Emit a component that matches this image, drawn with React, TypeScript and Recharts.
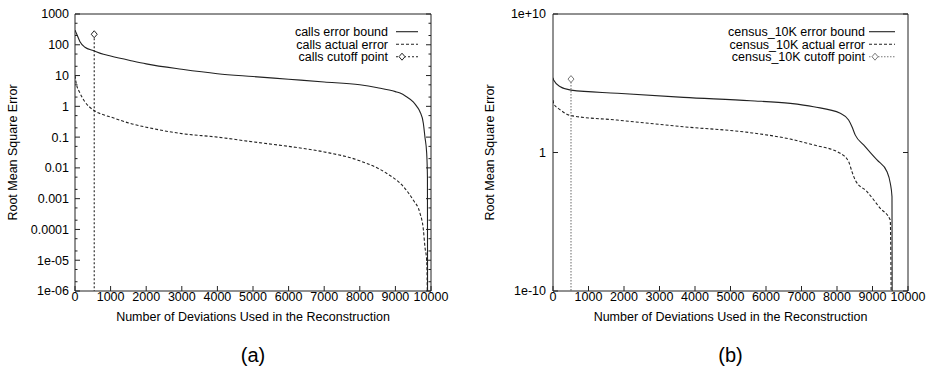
import React from 'react';
import { LineChart, Line, XAxis, YAxis, Legend } from 'recharts';

// x axis (both panels)
const xTicks = [0, 1000, 2000, 3000, 4000, 5000, 6000, 7000, 8000, 9000, 10000];

// panel (a): calls
const callsYMajor = [1e-6, 1e-5, 1e-4, 1e-3, 0.01, 0.1, 1, 10, 100, 1000];
const callsYLabels = ['1e-06', '1e-05', '0.0001', '0.001', '0.01', '0.1', '1', '10', '100', '1000'];
const callsYMinor = [2, 5];

const callsBound = [
  [0, 300], [50, 220], [140, 126], [280, 83], [515, 65], [800, 49], [1000, 43],
  [1545, 31], [2000, 24], [3000, 16], [4000, 11.5], [5000, 9.3], [6000, 7.6],
  [7000, 6.2], [8000, 5.0], [8500, 4.0], [9000, 3.0], [9130, 2.7], [9300, 2.1],
  [9500, 1.4], [9600, 1.0], [9690, 0.67], [9785, 0.28], [9830, 0.1], [9878, 0.031],
  [9900, 0.005], [9905, 1e-8],
];
const callsActual = [
  [0, 10], [30, 6], [140, 2.7], [280, 1.4], [515, 0.76], [800, 0.53], [1000, 0.45],
  [1545, 0.28], [2000, 0.21], [3000, 0.13], [4000, 0.1], [5000, 0.07], [6000, 0.05],
  [7000, 0.033], [8000, 0.017], [8750, 0.0067], [9220, 0.0025], [9500, 0.0009],
  [9690, 3.4e-4], [9785, 1e-4], [9830, 2.7e-5], [9878, 1e-5], [9895, 1e-6], [9900, 1e-8],
];
const callsCutoff = [[540, 220], [540, 1e-8]];

// panel (b): census_10K
const censusYMajor = [1e-10, 1, 1e10];
const censusYLabels = ['1e-10', '1', '1e+10'];

const censusBound = [
  [0, 2.5e5], [17, 1.7e5], [206, 5.6e4], [507, 3.2e4], [1803, 1.9e4], [3679, 9.5e3],
  [5558, 5.5e3], [6685, 3.5e3], [7341, 2.0e3], [8093, 680], [8327, 220], [8422, 72],
  [8516, 18], [8750, 3.5], [9127, 0.29], [9409, 0.041], [9501, 0.006], [9549, 6.5e-4],
  [9555, 1e-12],
];
const censusActual = [
  [0, 6000], [17, 3500], [206, 1200], [507, 460], [1803, 220], [3679, 72], [5558, 27],
  [6685, 9.3], [7341, 3.5], [8093, 0.87], [8327, 0.22], [8422, 0.041], [8516, 0.01],
  [8845, 1.5e-3], [9220, 9.3e-5], [9500, 1.35e-5], [9530, 1e-12],
];
const censusCutoff = [[507, 2.0e5], [507, 1e-12]];

const FONT = '"Liberation Sans", Arial, Helvetica, sans-serif';
const FS = 12.5;
const INK = '#222';

const toRows = (pts: number[][]) => pts.map(([x, y]) => ({ x, y }));

const withMinor = (majors: number[], factors: number[]) => {
  const out: number[] = [];
  majors.forEach((m, i) => {
    out.push(m);
    if (i < majors.length - 1) factors.forEach(f => out.push(m * f));
  });
  return out.sort((a, b) => a - b);
};

const majorIndex = (v: number, majors: number[]) =>
  majors.findIndex(m => Math.abs(Math.log10(v) - Math.log10(m)) < 1e-6);

const makeYTick = (majors: number[], labels: string[], side: 'left' | 'right', gap: number) =>
  (props: any) => {
    const { x, y, payload } = props;
    const idx = majorIndex(payload.value, majors);
    const len = idx >= 0 ? 5 : 2.5;
    const dir = side === 'left' ? 1 : -1;
    return (
      <g>
        <line x1={x} x2={x + dir * len} y1={y} y2={y} stroke={INK} />
        {side === 'left' && idx >= 0 && (
          <text x={x - gap} y={y} dy={4.4} textAnchor="end" fontSize={FS} fontFamily={FONT} fill="#000">
            {labels[idx]}
          </text>
        )}
      </g>
    );
  };

const makeXTick = (side: 'bottom' | 'top') => (props: any) => {
  const { x, y, payload } = props;
  const dir = side === 'bottom' ? -1 : 1;
  return (
    <g>
      <line x1={x} x2={x} y1={y} y2={y + dir * 5} stroke={INK} />
      {side === 'bottom' && (
        <text x={x} y={y + 9.5} textAnchor="middle" fontSize={FS} fontFamily={FONT} fill="#000">
          {payload.value}
        </text>
      )}
    </g>
  );
};

const diamondDot = (stroke: string) => (props: any) => {
  const { cx, cy, index } = props;
  if (index !== 0) return <g key={`d${index}`} />;
  return (
    <path
      key={`d${index}`}
      d={`M${cx},${cy - 3.5}L${cx + 3},${cy}L${cx},${cy + 3.5}L${cx - 3},${cy}Z`}
      fill="#fff"
      stroke={stroke}
    />
  );
};

interface LegendBoxProps {
  names: string[];
  textRight: number;
  sampleFrom: number;
  sampleTo: number;
  cutoffStroke: string;
  cutoffDash: string;
}

const LegendBox = ({ names, textRight, sampleFrom, sampleTo, cutoffStroke, cutoffDash }: LegendBoxProps) => {
  const rows = [31.7, 44.3, 56.7];
  const dashes = ['', '3 2', cutoffDash];
  return (
    <svg width={sampleTo + 4} height={64} style={{ display: 'block', overflow: 'visible' }}>
      {names.map((n, i) => (
        <g key={n}>
          <text x={textRight} y={rows[i]} dy={4.4} textAnchor="end" fontSize={FS} fontFamily={FONT} fill="#000">
            {n}
          </text>
          <line
            x1={sampleFrom}
            x2={sampleTo}
            y1={rows[i]}
            y2={rows[i]}
            stroke={i === 2 ? cutoffStroke : INK}
            strokeWidth={1.1}
            strokeDasharray={dashes[i] || undefined}
          />
          {i === 2 && (
            <path
              d={`M${sampleFrom + 6},${rows[i] - 3.5}L${sampleFrom + 9},${rows[i]}L${sampleFrom + 6},${rows[i] + 3.5}L${sampleFrom + 3},${rows[i]}Z`}
              fill="#fff"
              stroke={cutoffStroke}
            />
          )}
        </g>
      ))}
    </svg>
  );
};

interface PanelProps {
  width: number;
  yAxisWidth: number;
  marginRight: number;
  yMajor: number[];
  yLabels: string[];
  yTicks: number[];
  labelGap: number;
  yTitleX: number;
  caption: string;
  names: string[];
  bound: number[][];
  actual: number[][];
  cutoff: number[][];
  legendText: number;
  legendFrom: number;
  legendTo: number;
  cutoffStroke: string;
  cutoffDash: string;
}

const Panel = (p: PanelProps) => {
  const domain = [p.yMajor[0], p.yMajor[p.yMajor.length - 1]];
  return (
    <LineChart
      width={p.width}
      height={369}
      margin={{ top: 13, right: p.marginRight, bottom: 38, left: 0 }}
      style={{ background: '#fff' }}
    >
      <XAxis
        dataKey="x"
        type="number"
        domain={[0, 10000]}
        ticks={xTicks}
        interval={0}
        allowDataOverflow
        height={40}
        tickSize={0}
        tickMargin={0}
        axisLine={{ stroke: INK }}
        tick={makeXTick('bottom')}
        label={(lp: any) => {
          const vb = lp.viewBox || {};
          const cx = vb.x + vb.width / 2;
          return (
            <g>
              <text x={cx} y={vb.y + 29.5} textAnchor="middle" fontSize={FS} fontFamily={FONT} fill="#000">
                Number of Deviations Used in the Reconstruction
              </text>
              <text x={cx} y={362} textAnchor="middle" fontSize={20} fontFamily={FONT} fill="#000">
                {p.caption}
              </text>
            </g>
          );
        }}
      />
      <XAxis
        xAxisId="t"
        orientation="top"
        dataKey="x"
        type="number"
        domain={[0, 10000]}
        ticks={xTicks}
        interval={0}
        height={1}
        tickSize={0}
        tickMargin={0}
        axisLine={{ stroke: INK }}
        tick={makeXTick('top')}
      />
      <YAxis
        scale="log"
        type="number"
        domain={domain}
        allowDataOverflow
        ticks={p.yTicks}
        interval={0}
        width={p.yAxisWidth}
        tickSize={0}
        tickMargin={0}
        axisLine={{ stroke: INK }}
        tick={makeYTick(p.yMajor, p.yLabels, 'left', p.labelGap)}
        label={(lp: any) => {
          const vb = lp.viewBox || {};
          const cy = vb.y + vb.height / 2;
          return (
            <text
              x={p.yTitleX}
              y={cy}
              transform={`rotate(-90, ${p.yTitleX}, ${cy})`}
              textAnchor="middle"
              dominantBaseline="central"
              fontSize={FS}
              fontFamily={FONT}
              fill="#000"
            >
              Root Mean Square Error
            </text>
          );
        }}
      />
      <YAxis
        yAxisId="r"
        orientation="right"
        scale="log"
        type="number"
        domain={domain}
        allowDataOverflow
        ticks={p.yTicks}
        interval={0}
        width={1}
        tickSize={0}
        tickMargin={0}
        axisLine={{ stroke: INK }}
        tick={makeYTick(p.yMajor, p.yLabels, 'right', p.labelGap)}
      />
      <Legend
        layout="vertical"
        align="center"
        verticalAlign="middle"
        wrapperStyle={{ position: 'absolute', top: 0, left: 0, width: 'auto', height: 'auto' }}
        content={() => (
          <LegendBox
            names={p.names}
            textRight={p.legendText}
            sampleFrom={p.legendFrom}
            sampleTo={p.legendTo}
            cutoffStroke={p.cutoffStroke}
            cutoffDash={p.cutoffDash}
          />
        )}
      />
      <Line
        data={toRows(p.bound)}
        dataKey="y"
        name={p.names[0]}
        type="monotone"
        stroke={INK}
        strokeWidth={1.1}
        dot={false}
        isAnimationActive={false}
      />
      <Line
        data={toRows(p.actual)}
        dataKey="y"
        name={p.names[1]}
        type="monotone"
        stroke={INK}
        strokeWidth={1.1}
        strokeDasharray="3 2"
        dot={false}
        isAnimationActive={false}
      />
      <Line
        data={toRows(p.cutoff)}
        dataKey="y"
        name={p.names[2]}
        type="linear"
        stroke={p.cutoffStroke}
        strokeWidth={1.1}
        strokeDasharray={p.cutoffDash}
        dot={diamondDot(p.cutoffStroke)}
        activeDot={false}
        isAnimationActive={false}
      />
    </LineChart>
  );
};

export default function App() {
  return (
    <div style={{ position: 'absolute', left: 0, top: 0, width: 927, height: 369, background: '#fff', display: 'flex' }}>
      <Panel
        width={460}
        yAxisWidth={75}
        marginRight={28}
        yMajor={callsYMajor}
        yLabels={callsYLabels}
        yTicks={withMinor(callsYMajor, callsYMinor)}
        labelGap={6}
        yTitleX={12.5}
        caption="(a)"
        names={['calls error bound', 'calls actual error', 'calls cutoff point']}
        bound={callsBound}
        actual={callsActual}
        cutoff={callsCutoff}
        legendText={388}
        legendFrom={396}
        legendTo={418}
        cutoffStroke={INK}
        cutoffDash="2 2"
      />
      <Panel
        width={467}
        yAxisWidth={93}
        marginRight={18}
        yMajor={censusYMajor}
        yLabels={censusYLabels}
        yTicks={censusYMajor}
        labelGap={7}
        yTitleX={30}
        caption="(b)"
        names={['census_10K error bound', 'census_10K actual error', 'census_10K cutoff point']}
        bound={censusBound}
        actual={censusActual}
        cutoff={censusCutoff}
        legendText={405}
        legendFrom={409}
        legendTo={435}
        cutoffStroke="#777"
        cutoffDash="1.5 1.5"
      />
    </div>
  );
}
